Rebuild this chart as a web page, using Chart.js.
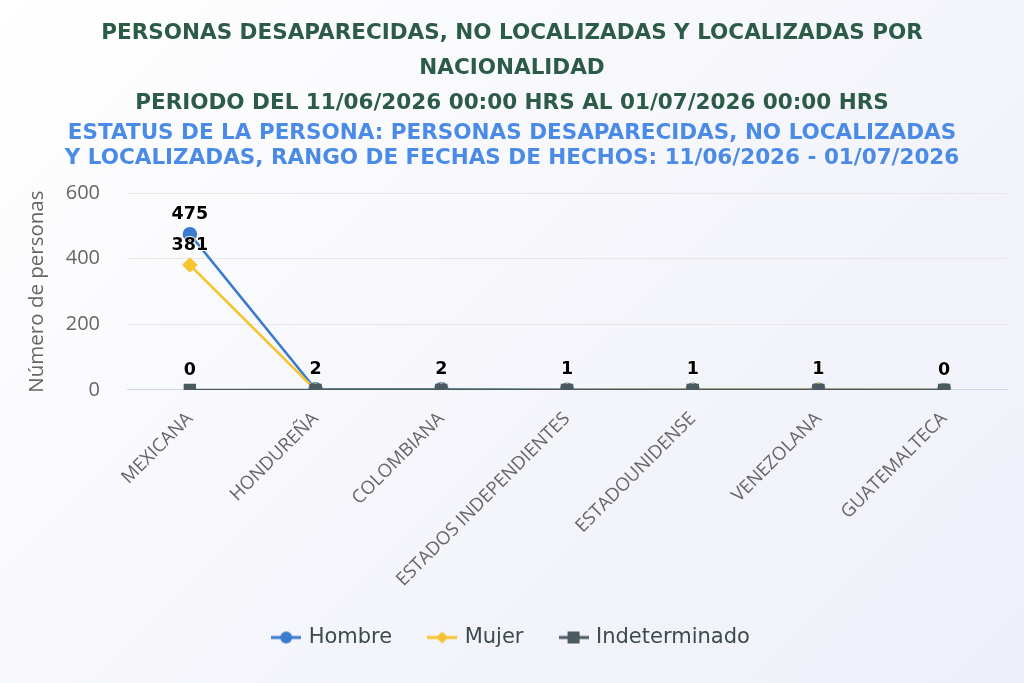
<!DOCTYPE html>
<html><head><meta charset="utf-8">
<script src="https://cdn.jsdelivr.net/npm/chart.js@4/dist/chart.umd.min.js"></script>
<style>
html,body{margin:0;padding:0;}
body{width:1024px;height:683px;background:linear-gradient(135deg,#ffffff 0%,#f4f5fb 60%,#eeeff9 100%);overflow:hidden;}
#wrap{position:relative;width:1024px;height:683px;}
</style></head>
<body><div id="wrap"><canvas id="c" width="1024" height="683"></canvas></div>
<script>
const categories = ["MEXICANA","HONDUREÑA","COLOMBIANA","ESTADOS INDEPENDIENTES","ESTADOUNIDENSE","VENEZOLANA","GUATEMALTECA"];
const hombre = [475, 2, 2, 1, 1, 1, 0];
const mujer = [381, 0, 0, 0, 1, 1, 0];
const indeterminado = [0, 0, 0, 0, 0, 0, 0];
const seriesNames = ["Hombre","Mujer","Indeterminado"];
const seriesColors = ["#3b7bce","#f6c431","#4a5a5e"];
const seriesMarkers = ["circle","rectRot","rect"];
const titleLines = ["PERSONAS DESAPARECIDAS, NO LOCALIZADAS Y LOCALIZADAS POR","NACIONALIDAD","PERIODO DEL 11/06/2026 00:00 HRS AL 01/07/2026 00:00 HRS"];
const subtitleLines = ["ESTATUS DE LA PERSONA: PERSONAS DESAPARECIDAS, NO LOCALIZADAS","Y LOCALIZADAS, RANGO DE FECHAS DE HECHOS: 11/06/2026 - 01/07/2026"];
const yTitle = "Número de personas";

function legendIcon(color, marker){
  const c = document.createElement('canvas');
  c.width = 30; c.height = 14;
  const x = c.getContext('2d');
  x.strokeStyle = color; x.lineWidth = 3;
  x.beginPath(); x.moveTo(0,7); x.lineTo(30,7); x.stroke();
  x.fillStyle = color;
  x.beginPath();
  if (marker === 'circle') { x.arc(15,7,6,0,Math.PI*2); }
  else if (marker === 'rectRot') { x.moveTo(15,1); x.lineTo(21,7); x.lineTo(15,13); x.lineTo(9,7); x.closePath(); }
  else { x.rect(9,1,12,12); }
  x.fill();
  return c;
}

const labelPlugin = {
  id:'labels',
  afterDatasetsDraw(chart){
    const ctx = chart.ctx;
    ctx.save();
    ctx.font = 'bold 17.5px "DejaVu Sans"';
    ctx.fillStyle = '#000';
    ctx.textAlign = 'center';
    ctx.textBaseline = 'middle';
    const placed = [];
    chart.data.datasets.forEach((ds, di) => {
      const meta = chart.getDatasetMeta(di);
      meta.data.forEach((pt, i) => {
        const txt = String(ds.data[i]);
        const w = ctx.measureText(txt).width;
        const x = pt.x, y = pt.y - 20;
        const r = {l:x-w/2-2, r:x+w/2+2, t:y-9, b:y+9};
        if (placed.some(p => !(r.r < p.l || r.l > p.r || r.b < p.t || r.t > p.b))) return;
        placed.push(r);
        ctx.lineWidth = 2; ctx.strokeStyle = 'rgba(255,255,255,0.9)';
        ctx.strokeText(txt, x, y);
        ctx.fillText(txt, x, y);
      });
    });
    ctx.restore();
  }
};

const datasets = [hombre, mujer, indeterminado].map((d, i) => ({
  label: seriesNames[i], data: d,
  borderColor: seriesColors[i], backgroundColor: seriesColors[i],
  pointStyle: seriesMarkers[i], pointRadius: i === 2 ? 7 : 6, borderWidth: 2.5,
  order: 3 - i
}));

new Chart(document.getElementById('c'), {
  type:'line',
  data:{ labels: categories, datasets },
  options:{
    responsive:false, animation:false,
    layout:{padding:{left:17,right:17,top:16,bottom:25}},
    plugins:{
      title:{display:true, text:titleLines, color:'#2c5b48', font:{family:'"DejaVu Sans"', size:21.5, weight:'bold', lineHeight:1.63}, padding:{top:0,bottom:0}},
      subtitle:{display:true, text:subtitleLines, color:'#4b8be6', font:{family:'"DejaVu Sans"', size:21.5, weight:'bold', lineHeight:1.163}, padding:{top:0,bottom:22}},
      legend:{position:'bottom',
        labels:{color:'#3d4a4a', font:{family:'"DejaVu Sans"', size:21}, padding:38, usePointStyle:true, pointStyleWidth:24,
          sort:(a,b)=>a.datasetIndex-b.datasetIndex,
          generateLabels:(chart)=>chart.data.datasets.map((ds,i)=>({
            text: ds.label, datasetIndex:i, fontColor:'#3d4a4a',
            pointStyle: legendIcon(seriesColors[i], seriesMarkers[i]),
            fillStyle: seriesColors[i], strokeStyle: seriesColors[i], lineWidth:0, hidden:false
          }))}},
      tooltip:{enabled:false}
    },
    scales:{
      x:{offset:true, grid:{display:false}, border:{color:'#ccd6eb'},
         afterFit:(s)=>{ s.paddingLeft = 0; s.height -= 12; },
         ticks:{color:'#666', maxRotation:45, minRotation:45, padding:10, font:{family:'"Open Sans"', size:18.5}}},
      y:{min:0, max:600, ticks:{stepSize:200, color:'#666', padding:27, font:{family:'"Open Sans"', size:20}},
         afterFit:(s)=>{ s.width = 110; },
         grid:{color:'#e6e6e6', drawTicks:false}, border:{display:false},
         title:{display:true, text:yTitle, color:'#666', padding:{top:7.7,bottom:0}, font:{family:'"Open Sans"', size:20.5}}}
    }
  },
  plugins:[labelPlugin]
});
</script></body></html>
